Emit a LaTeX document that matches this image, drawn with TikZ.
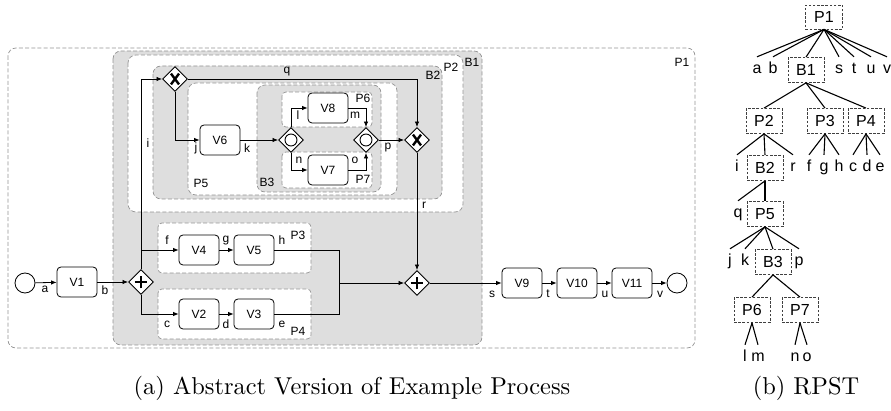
\documentclass[tikz,border=0pt]{standalone}
\usepackage{fontspec}
\setsansfont{Liberation Sans}
\usetikzlibrary{shapes.geometric,arrows.meta}

\tikzset{
  task/.style={draw, rounded corners=4pt, minimum width=40pt, minimum height=30pt,
    line width=0.8pt, fill=white, inner sep=0pt, font=\sffamily\fontsize{12}{12}\selectfont},
  gwbase/.style={diamond, draw, fill=white, minimum width=25pt, minimum height=25pt,
    inner sep=0pt, line width=0.9pt},
  xorgw/.style={gwbase, path picture={
    \draw[line width=2.4pt] ([shift={(-4pt,-5.4pt)}]path picture bounding box.center) -- ([shift={(4pt,5.4pt)}]path picture bounding box.center)
      ([shift={(-4pt,5.4pt)}]path picture bounding box.center) -- ([shift={(4pt,-5.4pt)}]path picture bounding box.center);}},
  andgw/.style={gwbase, path picture={
    \draw[line width=2.4pt] ([shift={(-6.3pt,0pt)}]path picture bounding box.center) -- ([shift={(6.3pt,0pt)}]path picture bounding box.center)
      ([shift={(0pt,-6.3pt)}]path picture bounding box.center) -- ([shift={(0pt,6.3pt)}]path picture bounding box.center);}},
  orgw/.style={gwbase, path picture={
    \draw[line width=0.9pt] (path picture bounding box.center) circle (6pt);}},
  event/.style={circle, draw, minimum size=20pt, inner sep=0pt, line width=0.8pt},
  flow/.style={line width=0.8pt, -{Latex[length=5.5pt,width=4.5pt]}},
  plain/.style={line width=0.8pt},
  region/.style={draw=black!42, dash pattern=on 4pt off 2.2pt, rounded corners=8pt, line width=0.7pt},
  shaded/.style={region, fill=black!13},
  lbl/.style={inner sep=0pt, font=\sffamily\fontsize{12}{12}\selectfont},
  tbox/.style={draw=black!75, dash pattern=on 2.6pt off 1.6pt, line width=0.8pt,
    minimum width=36pt, minimum height=25pt, inner sep=0pt, font=\sffamily\fontsize{16}{16}\selectfont},
  tleaf/.style={minimum height=26pt, inner sep=0pt, text height=11.5pt, text depth=3.5pt,
    font=\sffamily\fontsize{16}{16}\selectfont},
  tedge/.style={line width=1.1pt},
  capt/.style={inner sep=0pt, scale=2.44, font=\fontsize{10}{12}\selectfont}
}

\begin{document}
\begin{tikzpicture}[x=1pt, y=-1pt]
\useasboundingbox (0,0) rectangle (891,411);

% ---------- nested fragments ----------
\draw[region] (8,48) rectangle (695,348);
\draw[shaded] (113,51) rectangle (482,345);
\draw[region, fill=white] (128,55) rectangle (463,212);
\draw[shaded] (153,66) rectangle (442,199);
\draw[region, fill=white] (188,83) rectangle (397,195);
\draw[shaded] (257,85) rectangle (381,192);
\draw[region, fill=white, rounded corners=4pt] (282,92) rectangle (372,127);
\draw[region, fill=white, rounded corners=4pt] (282,152) rectangle (372,188);
\draw[region, fill=white, rounded corners=4pt] (158,223) rectangle (311,273);
\draw[region, fill=white, rounded corners=4pt] (158,289) rectangle (311,339);

\node[lbl] (nP1) at (682,62) {P1};
\node[lbl] (nB1) at (472,62) {B1};
\node[lbl] (nP2) at (451,67) {P2};
\node[lbl] (nB2) at (433,75) {B2};
\node[lbl] (nP5) at (201,183) {P5};
\node[lbl] (nB3) at (267,182) {B3};
\node[lbl] (nP6) at (363,98) {P6};
\node[lbl] (nP7) at (363,179) {P7};
\node[lbl] (nP3) at (298,235) {P3};
\node[lbl] (nP4) at (298,331) {P4};

% ---------- process elements ----------
\node[event] (start) at (25,283) {};
\node[task] (v1) at (77,282) {V1};
\node[andgw] (andS) at (141,282) {};
\node[task] (v4) at (199,250) {V4};
\node[task] (v5) at (254,250) {V5};
\node[task] (v2) at (199,314) {V2};
\node[task] (v3) at (254,314) {V3};
\coordinate (hm) at (339,283);
\node[andgw] (andJ) at (417,283) {};
\node[task] (v9) at (522,283) {V9};
\node[task] (v10) at (577,283) {V10};
\node[task] (v11) at (632,283) {V11};
\node[event] (end) at (677,283) {};

\node[xorgw] (xorS) at (175,79) {};
\node[task] (v6) at (220,140) {V6};
\node[orgw] (orS) at (291,140) {};
\node[task] (v8) at (328,108) {V8};
\node[task] (v7) at (328,170) {V7};
\node[orgw] (orJ) at (366,140) {};
\node[xorgw] (xorJ) at (417,140) {};

% ---------- sequence flows ----------
\draw[flow] (start) -- (v1);
\draw[flow] (v1) -- (andS);
\draw[flow] (andS.north) |- (xorS.west);
\draw[flow] (andS.north |- v4.west) -- (v4.west);
\draw[flow] (andS.south) |- (v2.west);
\draw[flow] (v4) -- (v5);
\draw[flow] (v2) -- (v3);
\draw[plain] (v5.east) -| (hm);
\draw[plain] (v3.east) -| (hm);
\draw[flow] (hm) -- (andJ.west);
\draw[flow] (andJ) -- (v9);
\draw[flow] (v9) -- (v10);
\draw[flow] (v10) -- (v11);
\draw[flow] (v11) -- (end);

\draw[flow] (xorS.east) -| (xorJ.north);
\draw[flow] (xorS.south) |- (v6.west);
\draw[flow] (v6) -- (orS);
\draw[flow] (orS.north) |- (v8.west);
\draw[flow] (orS.south) |- (v7.west);
\draw[flow] (v8.east) -| (orJ.north);
\draw[flow] (v7.east) -| (orJ.south);
\draw[flow] (orJ) -- (xorJ);
\draw[flow] (xorJ.south) -- (andJ.north);

% ---------- flow labels ----------
\node[lbl] (la) at (45,289) {a};
\node[lbl] (lb) at (105,290) {b};
\node[lbl] (lf) at (167,240) {f};
\node[lbl] (lc) at (167,324) {c};
\node[lbl] (lg) at (226,241) {g};
\node[lbl] (ld) at (226,324) {d};
\node[lbl] (lh) at (282,240) {h};
\node[lbl] (le) at (282,324) {e};
\node[lbl] (li) at (148,143) {i};
\node[lbl] (lj) at (196,148) {j};
\node[lbl] (lk) at (247,148) {k};
\node[lbl] (ll) at (298,115) {l};
\node[lbl] (lm) at (355,115) {m};
\node[lbl] (ln) at (299,160) {n};
\node[lbl] (lo) at (355,160) {o};
\node[lbl] (lp) at (388,148) {p};
\node[lbl] (lq) at (287,72) {q};
\node[lbl] (lr) at (424,205) {r};
\node[lbl] (ls) at (492,294) {s};
\node[lbl] (lt) at (548,294) {t};
\node[lbl] (lu) at (605,294) {u};
\node[lbl] (lv) at (660,294) {v};

% ---------- RPST ----------
\node[tbox, minimum width=37pt, minimum height=24pt] (tP1) at (824,17) {P1};
\node[tleaf] (ta) at (757,70) {a};
\node[tleaf] (tb) at (773,70) {b};
\node[tbox] (tB1) at (806,70) {B1};
\node[tleaf] (ts) at (839,70) {s};
\node[tleaf] (tt) at (854,70) {t};
\node[tleaf] (tu) at (871,70) {u};
\node[tleaf] (tv) at (887,70) {v};
\foreach \c in {ta,tb,tB1,ts,tt,tu,tv} \draw[tedge] (tP1.south) -- (\c.north);

\node[tbox] (tP2) at (764,121) {P2};
\node[tbox] (tP3) at (825,121) {P3};
\node[tbox] (tP4) at (866,121) {P4};
\foreach \c in {tP2,tP3,tP4} \draw[tedge] (tB1.south) -- (\c.north);

\node[tleaf] (ti) at (737,168) {i};
\node[tbox] (tB2) at (765,168) {B2};
\node[tleaf] (tr) at (793,168) {r};
\node[tleaf] (tf) at (809,168) {f};
\node[tleaf] (tg) at (824,168) {g};
\node[tleaf] (th) at (839,168) {h};
\node[tleaf] (tc) at (853,168) {c};
\node[tleaf] (td) at (867,168) {d};
\node[tleaf] (te) at (880,168) {e};
\foreach \c in {ti,tB2,tr} \draw[tedge] (tP2.south) -- (\c.north);
\foreach \c in {tf,tg,th} \draw[tedge] (tP3.south) -- (\c.north);
\foreach \c in {tc,td,te} \draw[tedge] (tP4.south) -- (\c.north);

\node[tleaf] (tq) at (738,214) {q};
\node[tbox] (tP5) at (765,214) {P5};
\foreach \c in {tq,tP5} \draw[tedge] (tB2.south) -- (\c.north);

\node[tleaf] (tj) at (730,262) {j};
\node[tleaf] (tk) at (745,262) {k};
\node[tbox] (tB3) at (773,262) {B3};
\node[tleaf] (tp) at (799,262) {p};
\foreach \c in {tj,tk,tB3,tp} \draw[tedge] (tP5.south) -- (\c.north);

\node[tbox] (tP6) at (752,310) {P6};
\node[tbox] (tP7) at (800,310) {P7};
\foreach \c in {tP6,tP7} \draw[tedge] (tB3.south) -- (\c.north);

\node[tleaf] (tl) at (745,358) {l};
\node[tleaf] (tm) at (758,358) {m};
\node[tleaf] (tn) at (795,358) {n};
\node[tleaf] (to) at (807,358) {o};
\foreach \c in {tl,tm} \draw[tedge] (tP6.south) -- (\c.north);
\foreach \c in {tn,to} \draw[tedge] (tP7.south) -- (\c.north);

% ---------- captions ----------
\node[capt] (capA) at (352,388) {(a) Abstract Version of Example Process};
\node[capt] (capB) at (806,388) {(b) RPST};
\end{tikzpicture}
\end{document}
